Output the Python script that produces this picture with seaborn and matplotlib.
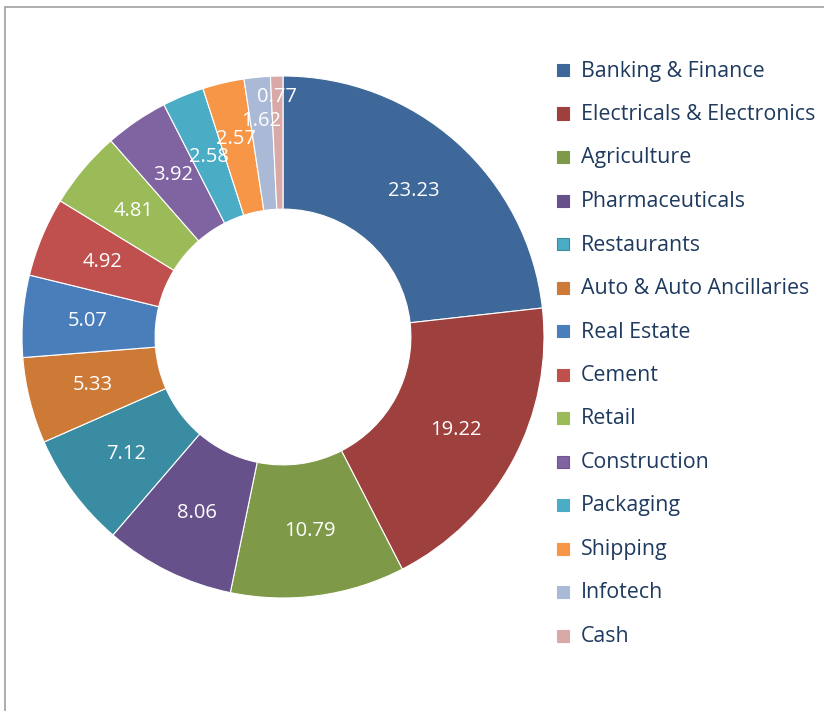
import matplotlib
matplotlib.use("Agg")
import matplotlib.pyplot as plt
import seaborn as sns
import numpy as np
from matplotlib.patches import Rectangle
from matplotlib.lines import Line2D

sectors = ["Banking & Finance", "Electricals & Electronics", "Agriculture",
           "Pharmaceuticals", "Restaurants", "Auto & Auto Ancillaries",
           "Real Estate", "Cement", "Retail", "Construction", "Packaging",
           "Shipping", "Infotech", "Cash"]
weights = [23.23, 19.22, 10.79, 8.06, 7.12, 5.33, 5.07, 4.92, 4.81, 3.92,
           2.58, 2.57, 1.62, 0.77]
colors = ["#3E6899", "#9E403D", "#7E9A48", "#67518A", "#3A8CA3", "#CE7A37",
          "#4A7EBB", "#C0504D", "#9BBB59", "#8064A2", "#4BACC6", "#F79646",
          "#A9B9D6", "#D9A9A8"]

sns.set_theme(style="white")
plt.rcParams["font.family"] = ["Open Sans", "DejaVu Sans"]

W, H = 824, 711
fig = plt.figure(figsize=(W / 100, H / 100), dpi=100)

# donut: centre (283, 337) px, outer radius 261 px
cx, cy, R = 283, 337, 261
ax = fig.add_axes([(cx - R) / W, (H - cy - R) / H, 2 * R / W, 2 * R / H])
pal = sns.color_palette(colors)
wedges, _ = ax.pie(weights, colors=pal, startangle=90, counterclock=False,
                   radius=1.0, wedgeprops=dict(width=0.51, edgecolor="white", linewidth=0.8))
ax.set_xlim(-1, 1)
ax.set_ylim(-1, 1)
ax.set_aspect("equal")
ax.axis("off")

# value labels in the ring; the tiny slices get pushed outward like Excel does
label_r = {10: 0.745, 11: 0.78, 12: 0.83, 13: 0.92}
for i, (w, v) in enumerate(zip(wedges, weights)):
    ang = np.deg2rad((w.theta1 + w.theta2) / 2)
    r = label_r.get(i, 0.75)
    ax.text(r * np.cos(ang), r * np.sin(ang), f"{v:.2f}", color="white",
            ha="center", va="center", fontsize=14.5)

# legend (excel shows the Restaurants key lighter than its slice)
key_face = {4: "#4BACC6"}
key_edge = {4: "#3A8CA3", 9: "#6F5690"}
x0, y0, step = 563, 70, 43.5
for i, (name, c) in enumerate(zip(sectors, pal)):
    y = y0 + i * step
    fig.patches.append(Rectangle(((x0 - 6) / W, (H - y - 6) / H), 12 / W, 12 / H,
                                 transform=fig.transFigure,
                                 facecolor=key_face.get(i, c),
                                 edgecolor=key_edge.get(i, c), linewidth=0.8))
    fig.text((x0 + 18) / W, (H - y - 1) / H, name, color="#1F3A5F",
             ha="left", va="center", fontsize=15.4)

# outer frame (top and left edges visible)
fig.lines.append(Line2D([5 / W, 1], [(H - 7) / H] * 2, transform=fig.transFigure,
                        color="#A0A0A0", linewidth=1.2))
fig.lines.append(Line2D([5 / W] * 2, [0, (H - 7) / H], transform=fig.transFigure,
                        color="#A0A0A0", linewidth=1.2))

fig.savefig("out.png", dpi=100)
